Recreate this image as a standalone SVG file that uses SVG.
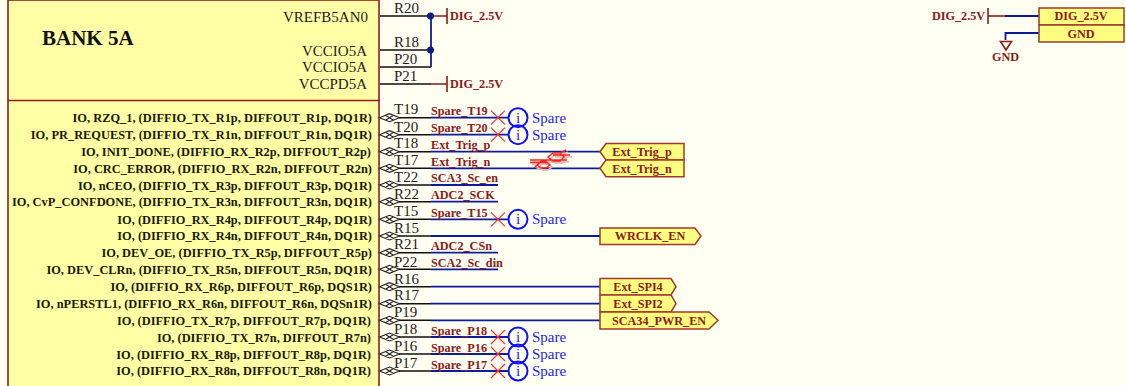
<svg xmlns="http://www.w3.org/2000/svg" width="1126" height="386" viewBox="0 0 1126 386">
<style>
text{font-family:"Liberation Serif","Times New Roman",serif}
.pl{font-size:12.4px;font-weight:bold;fill:#1a1a00;text-anchor:end}
.pw{font-size:15px;fill:#222;text-anchor:end}
.d{font-size:15px;fill:#222}
.n{font-size:12.2px;font-weight:bold;fill:#8b1a1a}
.s{font-size:15px;fill:#1c1cff}
.c{text-anchor:middle}
.k{stroke:#111;stroke-width:1.5;fill:none}
.b{stroke:#0c1c96;stroke-width:1.8;fill:none}
.r{stroke:#8b1a1a;stroke-width:1.6;fill:none}
.port{fill:#ffff80;stroke:#a03a2a;stroke-width:1.5}
.x{stroke:#ff3030;stroke-width:1.2;fill:none}
.ci{fill:none;stroke:#1010ff;stroke-width:2}
</style>
<defs>
<g id="pin"><path d="M379.500 0L389.500 -4L399.500 0L389.500 4ZM385.500 -2.500L393.500 2.500M385.500 2.500L393.500 -2.500" fill="#fffff2" stroke="#222" stroke-width="1.100"/></g>
<g id="sp"><path class="x" d="M491 -7L505 7M491 7L505 -7"/><circle class="ci" cx="518" cy="0" r="9.5"/><text class="s c" x="518" y="5">i</text><text class="s" x="532" y="5">Spare</text></g>
</defs>
<rect width="1126" height="386" fill="#fffff2"/>
<g id="bank5a">
<rect x="8" y="0" width="371" height="400" fill="#ffffa6" stroke="#8f1e1e" stroke-width="1.6"/>
<path d="M8 100.500H380" stroke="#8f1e1e" stroke-width="1.6"/>
<text x="42" y="45" font-size="21" font-weight="bold" fill="#111">BANK 5A</text>
<text class="pw" x="368" y="22">VREFB5AN0</text>
<text class="pw" x="367" y="56">VCCIO5A</text>
<text class="pw" x="367" y="72">VCCIO5A</text>
<text class="pw" x="367" y="89">VCCPD5A</text>
<text class="pl" x="372" y="122">IO, RZQ_1, (DIFFIO_TX_R1p, DIFFOUT_R1p, DQ1R)</text>
<text class="pl" x="372" y="139">IO, PR_REQUEST, (DIFFIO_TX_R1n, DIFFOUT_R1n, DQ1R)</text>
<text class="pl" x="371" y="156">IO, INIT_DONE, (DIFFIO_RX_R2p, DIFFOUT_R2p)</text>
<text class="pl" x="372" y="173">IO, CRC_ERROR, (DIFFIO_RX_R2n, DIFFOUT_R2n)</text>
<text class="pl" x="372" y="190">IO, nCEO, (DIFFIO_TX_R3p, DIFFOUT_R3p, DQ1R)</text>
<text class="pl" x="372" y="206">IO, CvP_CONFDONE, (DIFFIO_TX_R3n, DIFFOUT_R3n, DQ1R)</text>
<text class="pl" x="372" y="224">IO, (DIFFIO_RX_R4p, DIFFOUT_R4p, DQ1R)</text>
<text class="pl" x="372" y="240">IO, (DIFFIO_RX_R4n, DIFFOUT_R4n, DQ1R)</text>
<text class="pl" x="372" y="257">IO, DEV_OE, (DIFFIO_TX_R5p, DIFFOUT_R5p)</text>
<text class="pl" x="372" y="274">IO, DEV_CLRn, (DIFFIO_TX_R5n, DIFFOUT_R5n, DQ1R)</text>
<text class="pl" x="372" y="291">IO, (DIFFIO_RX_R6p, DIFFOUT_R6p, DQS1R)</text>
<text class="pl" x="372" y="308">IO, nPERSTL1, (DIFFIO_RX_R6n, DIFFOUT_R6n, DQSn1R)</text>
<text class="pl" x="371" y="325">IO, (DIFFIO_TX_R7p, DIFFOUT_R7p, DQ1R)</text>
<text class="pl" x="371" y="342">IO, (DIFFIO_TX_R7n, DIFFOUT_R7n)</text>
<text class="pl" x="371" y="359">IO, (DIFFIO_RX_R8p, DIFFOUT_R8p, DQ1R)</text>
<text class="pl" x="371" y="375">IO, (DIFFIO_RX_R8n, DIFFOUT_R8n, DQ1R)</text>
<use href="#pin" y="117.700"/><use href="#pin" y="134.700"/><use href="#pin" y="151.700"/><use href="#pin" y="168.300"/><use href="#pin" y="185"/><use href="#pin" y="201.700"/><use href="#pin" y="219.300"/><use href="#pin" y="236"/><use href="#pin" y="252.700"/><use href="#pin" y="269.300"/><use href="#pin" y="286.700"/><use href="#pin" y="303.700"/><use href="#pin" y="320.300"/><use href="#pin" y="337"/><use href="#pin" y="354"/><use href="#pin" y="371"/>
<text class="d" x="394" y="13">R20</text><text class="d" x="394" y="47">R18</text><text class="d" x="394" y="64">P20</text><text class="d" x="394" y="81">P21</text>
<text class="d" x="394" y="114">T19</text><text class="d" x="394" y="132">T20</text><text class="d" x="394" y="148">T18</text><text class="d" x="394" y="165">T17</text><text class="d" x="394" y="182">T22</text><text class="d" x="394" y="199">R22</text><text class="d" x="394" y="216">T15</text><text class="d" x="394" y="233">R15</text><text class="d" x="394" y="249">R21</text><text class="d" x="394" y="267">P22</text><text class="d" x="394" y="284">R16</text><text class="d" x="394" y="300">R17</text><text class="d" x="394" y="317">P19</text><text class="d" x="394" y="334">P18</text><text class="d" x="394" y="351">P16</text><text class="d" x="394" y="368">P17</text>
</g>
<g id="connectors">
<path class="b" d="M431 16V67"/>
<path class="k" d="M380 16H431M380 50H431M380 67H431M380 84H431"/>
<path class="k" d="M399 117.700H431M399 134.700H431M399 151.700H431M399 168.300H431M399 185H431M399 201.700H431M399 219.300H431M399 236H431M399 252.700H431M399 269.300H431M399 286.700H431M399 303.700H431M399 320.300H431M399 337H431M399 354H431M399 371H431"/>
<path class="r" d="M431 16H447M431 84H447"/>
<circle cx="430.500" cy="16" r="3.500" fill="#0c1c80"/><circle cx="430.500" cy="50" r="3.500" fill="#0c1c80"/>
<path class="b" d="M431 117.700H509M431 134.700H509M431 151.700H600M431 168.300H600M431 185H498M431 201.700H498M431 219.300H509M431 236H600M431 252.700H498M431 269.300H498M431 286.700H600M431 303.700H600M431 320.300H600M431 337H509M431 354H509M431 371H509"/>
<path class="r" d="M1005 16H988"/><path class="b" d="M1005 16H1039M1039 33H1005.500V40"/>
</g>
<g id="power-nets">
<path class="r" d="M447 8V24M447 76V92M988 8V24M1000.500 41.500H1011.500L1006 50Z"/>
<text class="n" x="450" y="20">DIG_2.5V</text><text class="n" x="450" y="88">DIG_2.5V</text>
<text class="n" x="932" y="20">DIG_2.5V</text><text class="n c" x="1005.500" y="61">GND</text>
</g>
<g id="net-labels">
<text class="n" x="431" y="115">Spare_T19</text><text class="n" x="431" y="132">Spare_T20</text><text class="n" x="431" y="149">Ext_Trig_p</text><text class="n" x="431" y="166">Ext_Trig_n</text><text class="n" x="431" y="182">SCA3_Sc_en</text><text class="n" x="431" y="199">ADC2_SCK</text><text class="n" x="431" y="217">Spare_T15</text><text class="n" x="431" y="250">ADC2_CSn</text><text class="n" x="431" y="267">SCA2_Sc_din</text><text class="n" x="431" y="335">Spare_P18</text><text class="n" x="431" y="352">Spare_P16</text><text class="n" x="431" y="369">Spare_P17</text>
</g>
<g id="spare-T19"><use href="#sp" y="117.700"/></g>
<g id="spare-T20"><use href="#sp" y="134.700"/></g>
<g id="spare-T15"><use href="#sp" y="219.300"/></g>
<g id="spare-P18"><use href="#sp" y="337"/></g>
<g id="spare-P16"><use href="#sp" y="354"/></g>
<g id="spare-P17"><use href="#sp" y="371"/></g>
<g id="diff-pair">
<path d="M530 160H567M530 162.500H548M553 155H570M534 168L541 161.500H546L550 165L546 168H541L537 165M548 157L553 153H560L564 157L560 161H553ZM560 153L566 150" stroke="#d8b8b0" stroke-width="1.600" fill="none" transform="translate(2 2)"/>
<path d="M530 160H567M530 162.500H548M553 155H570M534 168L541 161.500H546L550 165L546 168H541L537 165M548 157L553 153H560L564 157L560 161H553ZM560 153L566 150" stroke="#ff2020" stroke-width="1.400" fill="none"/>
</g>
<g id="ext-trig-p"><path class="port" d="M600 151.700L606 143.500H684V160H606Z"/><text class="n c" x="642" y="156">Ext_Trig_p</text></g>
<g id="ext-trig-n"><path class="port" d="M600 168.300L606 160H684V176.700H606Z"/><text class="n c" x="642" y="173">Ext_Trig_n</text></g>
<g id="wrclk-en"><path class="port" d="M600 228H695L701 236L695 244.500H600Z"/><text class="n c" x="650" y="240">WRCLK_EN</text></g>
<g id="ext-spi4"><path class="port" d="M600 278.500H671L676 286.700L671 295H600Z"/><text class="n c" x="638" y="291">Ext_SPI4</text></g>
<g id="ext-spi2"><path class="port" d="M600 295H671L676 303.700L671 312H600Z"/><text class="n c" x="638" y="308">Ext_SPI2</text></g>
<g id="sca34-pwr-en"><path class="port" d="M600 312H709L718 320.300L709 329H600Z"/><text class="n c" x="659" y="325">SCA34_PWR_EN</text></g>
<g id="power-table">
<rect class="port" x="1039" y="8" width="85" height="17"/><rect class="port" x="1039" y="25" width="85" height="17"/>
<text class="n c" x="1081" y="20">DIG_2.5V</text><text class="n c" x="1081" y="38">GND</text>
</g>
</svg>
